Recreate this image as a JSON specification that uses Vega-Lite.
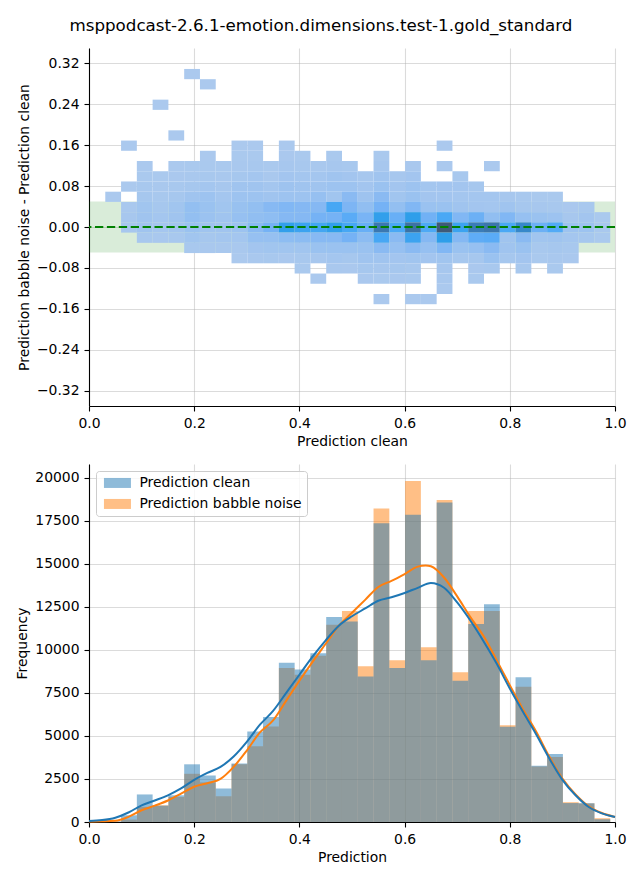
{
  "$schema": "https://vega.github.io/schema/vega-lite/v6.json",
  "background": "white",
  "padding": {"left": 15, "top": 18, "right": 5, "bottom": 5},
  "title": {"text": "msppodcast-2.6.1-emotion.dimensions.test-1.gold_standard", "font": "DejaVu Sans", "fontSize": 16.7, "fontWeight": "normal", "color": "black", "anchor": "middle", "offset": 13},
  "config": {
    "view": {"stroke": null},
    "font": "DejaVu Sans",
    "axis": {"labelFont": "DejaVu Sans", "labelFontSize": 13.9, "labelColor": "black", "titleFont": "DejaVu Sans", "titleFontSize": 13.9, "titleFontWeight": "normal", "titleColor": "black", "domainColor": "black", "domainWidth": 1.1, "tickColor": "black", "tickWidth": 1.1, "tickSize": 5, "labelPadding": 5, "titlePadding": 5, "grid": true, "gridColor": "#b0b0b0", "gridOpacity": 0.45, "gridWidth": 1.1, "zindex": 1, "labelFlush": false, "labelOverlap": false},
    "axisY": {"titlePadding": 5}
  },
  "spacing": 15,
  "datasets": {
    "cells": [
      {"p":0.045,"d":0.06,"c":1},
      {"p":0.075,"d":0.16,"c":3},{"p":0.075,"d":0.08,"c":8},{"p":0.075,"d":0.04,"c":60},{"p":0.075,"d":0.02,"c":160},{"p":0.075,"d":0,"c":150},
      {"p":0.105,"d":0.12,"c":10},{"p":0.105,"d":0.1,"c":40},{"p":0.105,"d":0.08,"c":100},{"p":0.105,"d":0.06,"c":200},{"p":0.105,"d":0.04,"c":350},{"p":0.105,"d":0.02,"c":400},{"p":0.105,"d":0,"c":400},{"p":0.105,"d":-0.02,"c":100},
      {"p":0.135,"d":0.24,"c":1},{"p":0.135,"d":0.1,"c":20},{"p":0.135,"d":0.08,"c":60},{"p":0.135,"d":0.06,"c":120},{"p":0.135,"d":0.04,"c":200},{"p":0.135,"d":0.02,"c":250},{"p":0.135,"d":0,"c":220},{"p":0.135,"d":-0.02,"c":80},
      {"p":0.165,"d":0.18,"c":1},{"p":0.165,"d":0.12,"c":10},{"p":0.165,"d":0.1,"c":50},{"p":0.165,"d":0.08,"c":120},{"p":0.165,"d":0.06,"c":200},{"p":0.165,"d":0.04,"c":350},{"p":0.165,"d":0.02,"c":400},{"p":0.165,"d":0,"c":300},{"p":0.165,"d":-0.02,"c":120},
      {"p":0.195,"d":0.3,"c":1},{"p":0.195,"d":0.12,"c":20},{"p":0.195,"d":0.1,"c":80},{"p":0.195,"d":0.08,"c":200},{"p":0.195,"d":0.06,"c":400},{"p":0.195,"d":0.04,"c":800},{"p":0.195,"d":0.02,"c":800},{"p":0.195,"d":0,"c":600},{"p":0.195,"d":-0.02,"c":350},{"p":0.195,"d":-0.04,"c":100},
      {"p":0.225,"d":0.28,"c":1},{"p":0.225,"d":0.14,"c":5},{"p":0.225,"d":0.12,"c":30},{"p":0.225,"d":0.1,"c":120},{"p":0.225,"d":0.08,"c":250},{"p":0.225,"d":0.06,"c":500},{"p":0.225,"d":0.04,"c":600},{"p":0.225,"d":0.02,"c":550},{"p":0.225,"d":0,"c":400},{"p":0.225,"d":-0.02,"c":180},{"p":0.225,"d":-0.04,"c":60},
      {"p":0.255,"d":0.12,"c":20},{"p":0.255,"d":0.1,"c":60},{"p":0.255,"d":0.08,"c":150},{"p":0.255,"d":0.06,"c":250},{"p":0.255,"d":0.04,"c":350},{"p":0.255,"d":0.02,"c":400},{"p":0.255,"d":0,"c":380},{"p":0.255,"d":-0.02,"c":250},{"p":0.255,"d":-0.04,"c":90},
      {"p":0.285,"d":0.16,"c":5},{"p":0.285,"d":0.14,"c":20},{"p":0.285,"d":0.12,"c":80},{"p":0.285,"d":0.1,"c":200},{"p":0.285,"d":0.08,"c":400},{"p":0.285,"d":0.06,"c":500},{"p":0.285,"d":0.04,"c":650},{"p":0.285,"d":0.02,"c":700},{"p":0.285,"d":0,"c":500},{"p":0.285,"d":-0.02,"c":250},{"p":0.285,"d":-0.04,"c":80},{"p":0.285,"d":-0.06,"c":5},
      {"p":0.315,"d":0.16,"c":5},{"p":0.315,"d":0.14,"c":30},{"p":0.315,"d":0.12,"c":100},{"p":0.315,"d":0.1,"c":250},{"p":0.315,"d":0.08,"c":400},{"p":0.315,"d":0.06,"c":500},{"p":0.315,"d":0.04,"c":800},{"p":0.315,"d":0.02,"c":900},{"p":0.315,"d":0,"c":1200},{"p":0.315,"d":-0.02,"c":700},{"p":0.315,"d":-0.04,"c":300},{"p":0.315,"d":-0.06,"c":60},
      {"p":0.345,"d":0.12,"c":20},{"p":0.345,"d":0.1,"c":80},{"p":0.345,"d":0.08,"c":250},{"p":0.345,"d":0.06,"c":400},{"p":0.345,"d":0.04,"c":1300},{"p":0.345,"d":0.02,"c":1000},{"p":0.345,"d":0,"c":1800},{"p":0.345,"d":-0.02,"c":700},{"p":0.345,"d":-0.04,"c":350},{"p":0.345,"d":-0.06,"c":100},
      {"p":0.375,"d":0.16,"c":3},{"p":0.375,"d":0.14,"c":50},{"p":0.375,"d":0.12,"c":150},{"p":0.375,"d":0.1,"c":300},{"p":0.375,"d":0.08,"c":450},{"p":0.375,"d":0.06,"c":500},{"p":0.375,"d":0.04,"c":1500},{"p":0.375,"d":0.02,"c":1400},{"p":0.375,"d":0,"c":3500},{"p":0.375,"d":-0.02,"c":1000},{"p":0.375,"d":-0.04,"c":350},{"p":0.375,"d":-0.06,"c":50},
      {"p":0.405,"d":0.14,"c":20},{"p":0.405,"d":0.12,"c":100},{"p":0.405,"d":0.1,"c":250},{"p":0.405,"d":0.08,"c":400},{"p":0.405,"d":0.06,"c":500},{"p":0.405,"d":0.04,"c":1400},{"p":0.405,"d":0.02,"c":1400},{"p":0.405,"d":0,"c":3200},{"p":0.405,"d":-0.02,"c":1100},{"p":0.405,"d":-0.04,"c":350},{"p":0.405,"d":-0.06,"c":100},{"p":0.405,"d":-0.08,"c":20},
      {"p":0.435,"d":0.12,"c":80},{"p":0.435,"d":0.1,"c":250},{"p":0.435,"d":0.08,"c":400},{"p":0.435,"d":0.06,"c":700},{"p":0.435,"d":0.04,"c":1400},{"p":0.435,"d":0.02,"c":1800},{"p":0.435,"d":0,"c":3000},{"p":0.435,"d":-0.02,"c":1300},{"p":0.435,"d":-0.04,"c":600},{"p":0.435,"d":-0.06,"c":150},{"p":0.435,"d":-0.1,"c":5},
      {"p":0.465,"d":0.14,"c":30},{"p":0.465,"d":0.12,"c":150},{"p":0.465,"d":0.1,"c":400},{"p":0.465,"d":0.08,"c":500},{"p":0.465,"d":0.06,"c":350},{"p":0.465,"d":0.04,"c":2900},{"p":0.465,"d":0.02,"c":1800},{"p":0.465,"d":0,"c":3500},{"p":0.465,"d":-0.02,"c":1300},{"p":0.465,"d":-0.04,"c":600},{"p":0.465,"d":-0.06,"c":250},{"p":0.465,"d":-0.08,"c":80},
      {"p":0.495,"d":0.12,"c":100},{"p":0.495,"d":0.1,"c":300},{"p":0.495,"d":0.08,"c":500},{"p":0.495,"d":0.06,"c":1200},{"p":0.495,"d":0.04,"c":1600},{"p":0.495,"d":0.02,"c":2400},{"p":0.495,"d":0,"c":2900},{"p":0.495,"d":-0.02,"c":1800},{"p":0.495,"d":-0.04,"c":600},{"p":0.495,"d":-0.06,"c":200},{"p":0.495,"d":-0.08,"c":50},
      {"p":0.525,"d":0.1,"c":150},{"p":0.525,"d":0.08,"c":300},{"p":0.525,"d":0.06,"c":450},{"p":0.525,"d":0.04,"c":900},{"p":0.525,"d":0.02,"c":1700},{"p":0.525,"d":0,"c":2100},{"p":0.525,"d":-0.02,"c":1100},{"p":0.525,"d":-0.04,"c":600},{"p":0.525,"d":-0.06,"c":400},{"p":0.525,"d":-0.08,"c":200},{"p":0.525,"d":-0.1,"c":50},
      {"p":0.555,"d":0.14,"c":30},{"p":0.555,"d":0.12,"c":150},{"p":0.555,"d":0.1,"c":400},{"p":0.555,"d":0.08,"c":600},{"p":0.555,"d":0.06,"c":1200},{"p":0.555,"d":0.04,"c":1800},{"p":0.555,"d":0.02,"c":3500},{"p":0.555,"d":0,"c":6300},{"p":0.555,"d":-0.02,"c":2900},{"p":0.555,"d":-0.04,"c":1200},{"p":0.555,"d":-0.06,"c":400},{"p":0.555,"d":-0.08,"c":150},{"p":0.555,"d":-0.1,"c":40},{"p":0.555,"d":-0.14,"c":2},
      {"p":0.585,"d":0.1,"c":150},{"p":0.585,"d":0.08,"c":300},{"p":0.585,"d":0.06,"c":350},{"p":0.585,"d":0.04,"c":800},{"p":0.585,"d":0.02,"c":2100},{"p":0.585,"d":0,"c":2800},{"p":0.585,"d":-0.02,"c":1200},{"p":0.585,"d":-0.04,"c":700},{"p":0.585,"d":-0.06,"c":300},{"p":0.585,"d":-0.08,"c":200},{"p":0.585,"d":-0.1,"c":50},
      {"p":0.615,"d":0.12,"c":80},{"p":0.615,"d":0.1,"c":300},{"p":0.615,"d":0.08,"c":500},{"p":0.615,"d":0.06,"c":600},{"p":0.615,"d":0.04,"c":1500},{"p":0.615,"d":0.02,"c":3600},{"p":0.615,"d":0,"c":6800},{"p":0.615,"d":-0.02,"c":3200},{"p":0.615,"d":-0.04,"c":1200},{"p":0.615,"d":-0.06,"c":350},{"p":0.615,"d":-0.08,"c":120},{"p":0.615,"d":-0.1,"c":40},{"p":0.615,"d":-0.14,"c":2},
      {"p":0.645,"d":0.08,"c":250},{"p":0.645,"d":0.06,"c":300},{"p":0.645,"d":0.04,"c":600},{"p":0.645,"d":0.02,"c":1900},{"p":0.645,"d":0,"c":2700},{"p":0.645,"d":-0.02,"c":1400},{"p":0.645,"d":-0.04,"c":700},{"p":0.645,"d":-0.06,"c":300},{"p":0.645,"d":-0.14,"c":1},
      {"p":0.675,"d":0.16,"c":2},{"p":0.675,"d":0.12,"c":3},{"p":0.675,"d":0.08,"c":300},{"p":0.675,"d":0.06,"c":300},{"p":0.675,"d":0.04,"c":600},{"p":0.675,"d":0.02,"c":2800},{"p":0.675,"d":0,"c":9000},{"p":0.675,"d":-0.02,"c":3600},{"p":0.675,"d":-0.04,"c":1500},{"p":0.675,"d":-0.06,"c":350},{"p":0.675,"d":-0.08,"c":150},{"p":0.675,"d":-0.1,"c":60},{"p":0.675,"d":-0.12,"c":10},
      {"p":0.705,"d":0.1,"c":100},{"p":0.705,"d":0.08,"c":300},{"p":0.705,"d":0.06,"c":250},{"p":0.705,"d":0.04,"c":400},{"p":0.705,"d":0.02,"c":1500},{"p":0.705,"d":0,"c":3200},{"p":0.705,"d":-0.02,"c":1400},{"p":0.705,"d":-0.04,"c":600},{"p":0.705,"d":-0.06,"c":200},
      {"p":0.735,"d":0.08,"c":200},{"p":0.735,"d":0.06,"c":250},{"p":0.735,"d":0.04,"c":300},{"p":0.735,"d":0.02,"c":2000},{"p":0.735,"d":0,"c":6000},{"p":0.735,"d":-0.02,"c":2300},{"p":0.735,"d":-0.04,"c":700},{"p":0.735,"d":-0.06,"c":180},{"p":0.735,"d":-0.08,"c":50},{"p":0.735,"d":-0.1,"c":20},
      {"p":0.765,"d":0.12,"c":2},{"p":0.765,"d":0.06,"c":250},{"p":0.765,"d":0.04,"c":250},{"p":0.765,"d":0.02,"c":900},{"p":0.765,"d":0,"c":6500},{"p":0.765,"d":-0.02,"c":2400},{"p":0.765,"d":-0.04,"c":1200},{"p":0.765,"d":-0.06,"c":600},{"p":0.765,"d":-0.08,"c":100},
      {"p":0.795,"d":0.06,"c":150},{"p":0.795,"d":0.04,"c":400},{"p":0.795,"d":0.02,"c":1500},{"p":0.795,"d":0,"c":2800},{"p":0.795,"d":-0.02,"c":400},{"p":0.795,"d":-0.04,"c":400},{"p":0.795,"d":-0.06,"c":170},
      {"p":0.825,"d":0.06,"c":100},{"p":0.825,"d":0.04,"c":200},{"p":0.825,"d":0.02,"c":700},{"p":0.825,"d":0,"c":5200},{"p":0.825,"d":-0.02,"c":1200},{"p":0.825,"d":-0.04,"c":600},{"p":0.825,"d":-0.06,"c":300},{"p":0.825,"d":-0.08,"c":100},
      {"p":0.855,"d":0.06,"c":30},{"p":0.855,"d":0.04,"c":150},{"p":0.855,"d":0.02,"c":600},{"p":0.855,"d":0,"c":2000},{"p":0.855,"d":-0.02,"c":350},{"p":0.855,"d":-0.04,"c":100},{"p":0.855,"d":-0.06,"c":20},
      {"p":0.885,"d":0.06,"c":30},{"p":0.885,"d":0.04,"c":100},{"p":0.885,"d":0.02,"c":500},{"p":0.885,"d":0,"c":2600},{"p":0.885,"d":-0.02,"c":400},{"p":0.885,"d":-0.04,"c":200},{"p":0.885,"d":-0.06,"c":80},{"p":0.885,"d":-0.08,"c":40},
      {"p":0.915,"d":0.04,"c":50},{"p":0.915,"d":0.02,"c":150},{"p":0.915,"d":0,"c":500},{"p":0.915,"d":-0.02,"c":250},{"p":0.915,"d":-0.04,"c":100},{"p":0.915,"d":-0.06,"c":50},
      {"p":0.945,"d":0.04,"c":100},{"p":0.945,"d":0.02,"c":300},{"p":0.945,"d":0,"c":500},{"p":0.945,"d":-0.02,"c":200},
      {"p":0.975,"d":0.02,"c":40},{"p":0.975,"d":0,"c":80},{"p":0.975,"d":-0.02,"c":40}
    ],
    "hist": [
      {"p":0.015,"s":"Prediction clean","n":0},{"p":0.015,"s":"Prediction babble noise","n":10},
      {"p":0.045,"s":"Prediction clean","n":30},{"p":0.045,"s":"Prediction babble noise","n":20},
      {"p":0.075,"s":"Prediction clean","n":390},{"p":0.075,"s":"Prediction babble noise","n":140},
      {"p":0.105,"s":"Prediction clean","n":1600},{"p":0.105,"s":"Prediction babble noise","n":880},
      {"p":0.135,"s":"Prediction clean","n":950},{"p":0.135,"s":"Prediction babble noise","n":970},
      {"p":0.165,"s":"Prediction clean","n":1550},{"p":0.165,"s":"Prediction babble noise","n":1450},
      {"p":0.195,"s":"Prediction clean","n":3350},{"p":0.195,"s":"Prediction babble noise","n":2800},
      {"p":0.225,"s":"Prediction clean","n":2700},{"p":0.225,"s":"Prediction babble noise","n":2300},
      {"p":0.255,"s":"Prediction clean","n":1950},{"p":0.255,"s":"Prediction babble noise","n":1500},
      {"p":0.285,"s":"Prediction clean","n":3400},{"p":0.285,"s":"Prediction babble noise","n":3350},
      {"p":0.315,"s":"Prediction clean","n":5250},{"p":0.315,"s":"Prediction babble noise","n":4400},
      {"p":0.345,"s":"Prediction clean","n":6100},{"p":0.345,"s":"Prediction babble noise","n":5550},
      {"p":0.375,"s":"Prediction clean","n":9250},{"p":0.375,"s":"Prediction babble noise","n":8950},
      {"p":0.405,"s":"Prediction clean","n":8850},{"p":0.405,"s":"Prediction babble noise","n":8550},
      {"p":0.435,"s":"Prediction clean","n":9800},{"p":0.435,"s":"Prediction babble noise","n":9650},
      {"p":0.465,"s":"Prediction clean","n":11900},{"p":0.465,"s":"Prediction babble noise","n":11450},
      {"p":0.495,"s":"Prediction clean","n":11650},{"p":0.495,"s":"Prediction babble noise","n":12250},
      {"p":0.525,"s":"Prediction clean","n":8450},{"p":0.525,"s":"Prediction babble noise","n":9050},
      {"p":0.555,"s":"Prediction clean","n":17350},{"p":0.555,"s":"Prediction babble noise","n":18200},
      {"p":0.585,"s":"Prediction clean","n":8950},{"p":0.585,"s":"Prediction babble noise","n":9400},
      {"p":0.615,"s":"Prediction clean","n":17850},{"p":0.615,"s":"Prediction babble noise","n":19800},
      {"p":0.645,"s":"Prediction clean","n":9400},{"p":0.645,"s":"Prediction babble noise","n":10150},
      {"p":0.675,"s":"Prediction clean","n":18550},{"p":0.675,"s":"Prediction babble noise","n":18700},
      {"p":0.705,"s":"Prediction clean","n":8200},{"p":0.705,"s":"Prediction babble noise","n":8700},
      {"p":0.735,"s":"Prediction clean","n":11500},{"p":0.735,"s":"Prediction babble noise","n":12250},
      {"p":0.765,"s":"Prediction clean","n":12650},{"p":0.765,"s":"Prediction babble noise","n":12250},
      {"p":0.795,"s":"Prediction clean","n":5530},{"p":0.795,"s":"Prediction babble noise","n":5620},
      {"p":0.825,"s":"Prediction clean","n":8400},{"p":0.825,"s":"Prediction babble noise","n":7850},
      {"p":0.855,"s":"Prediction clean","n":3260},{"p":0.855,"s":"Prediction babble noise","n":3230},
      {"p":0.885,"s":"Prediction clean","n":3950},{"p":0.885,"s":"Prediction babble noise","n":3770},
      {"p":0.915,"s":"Prediction clean","n":1100},{"p":0.915,"s":"Prediction babble noise","n":1150},
      {"p":0.945,"s":"Prediction clean","n":1090},{"p":0.945,"s":"Prediction babble noise","n":1080},
      {"p":0.975,"s":"Prediction clean","n":160},{"p":0.975,"s":"Prediction babble noise","n":220}
    ],
    "kde": [
      {"p":0,"s":"Prediction clean","k":60},{"p":0.025,"s":"Prediction clean","k":110},{"p":0.05,"s":"Prediction clean","k":250},{"p":0.075,"s":"Prediction clean","k":550},{"p":0.1,"s":"Prediction clean","k":970},{"p":0.125,"s":"Prediction clean","k":1250},{"p":0.15,"s":"Prediction clean","k":1550},{"p":0.175,"s":"Prediction clean","k":1950},{"p":0.2,"s":"Prediction clean","k":2450},{"p":0.225,"s":"Prediction clean","k":2850},{"p":0.25,"s":"Prediction clean","k":3200},{"p":0.275,"s":"Prediction clean","k":3800},{"p":0.3,"s":"Prediction clean","k":4650},{"p":0.325,"s":"Prediction clean","k":5650},{"p":0.35,"s":"Prediction clean","k":6450},{"p":0.375,"s":"Prediction clean","k":7500},{"p":0.4,"s":"Prediction clean","k":8550},{"p":0.425,"s":"Prediction clean","k":9600},{"p":0.45,"s":"Prediction clean","k":10550},{"p":0.475,"s":"Prediction clean","k":11400},{"p":0.5,"s":"Prediction clean","k":11950},{"p":0.525,"s":"Prediction clean","k":12400},{"p":0.55,"s":"Prediction clean","k":12850},{"p":0.575,"s":"Prediction clean","k":13050},{"p":0.6,"s":"Prediction clean","k":13300},{"p":0.625,"s":"Prediction clean","k":13600},{"p":0.65,"s":"Prediction clean","k":13880},{"p":0.675,"s":"Prediction clean","k":13600},{"p":0.7,"s":"Prediction clean","k":12750},{"p":0.725,"s":"Prediction clean","k":11700},{"p":0.75,"s":"Prediction clean","k":10500},{"p":0.775,"s":"Prediction clean","k":9200},{"p":0.8,"s":"Prediction clean","k":7750},{"p":0.825,"s":"Prediction clean","k":6400},{"p":0.85,"s":"Prediction clean","k":5100},{"p":0.875,"s":"Prediction clean","k":3700},{"p":0.9,"s":"Prediction clean","k":2450},{"p":0.925,"s":"Prediction clean","k":1550},{"p":0.95,"s":"Prediction clean","k":870},{"p":0.975,"s":"Prediction clean","k":500},{"p":1,"s":"Prediction clean","k":290},
      {"p":0,"s":"Prediction babble noise","k":30},{"p":0.025,"s":"Prediction babble noise","k":40},{"p":0.05,"s":"Prediction babble noise","k":70},{"p":0.075,"s":"Prediction babble noise","k":300},{"p":0.1,"s":"Prediction babble noise","k":680},{"p":0.125,"s":"Prediction babble noise","k":950},{"p":0.15,"s":"Prediction babble noise","k":1250},{"p":0.175,"s":"Prediction babble noise","k":1650},{"p":0.2,"s":"Prediction babble noise","k":2050},{"p":0.225,"s":"Prediction babble noise","k":2250},{"p":0.25,"s":"Prediction babble noise","k":2500},{"p":0.275,"s":"Prediction babble noise","k":3200},{"p":0.3,"s":"Prediction babble noise","k":4150},{"p":0.325,"s":"Prediction babble noise","k":5200},{"p":0.35,"s":"Prediction babble noise","k":5900},{"p":0.375,"s":"Prediction babble noise","k":7050},{"p":0.4,"s":"Prediction babble noise","k":8200},{"p":0.425,"s":"Prediction babble noise","k":9300},{"p":0.45,"s":"Prediction babble noise","k":10350},{"p":0.475,"s":"Prediction babble noise","k":11400},{"p":0.5,"s":"Prediction babble noise","k":12150},{"p":0.525,"s":"Prediction babble noise","k":12900},{"p":0.55,"s":"Prediction babble noise","k":13650},{"p":0.575,"s":"Prediction babble noise","k":14000},{"p":0.6,"s":"Prediction babble noise","k":14400},{"p":0.625,"s":"Prediction babble noise","k":14830},{"p":0.64,"s":"Prediction babble noise","k":14900},{"p":0.65,"s":"Prediction babble noise","k":14850},{"p":0.675,"s":"Prediction babble noise","k":14200},{"p":0.7,"s":"Prediction babble noise","k":13100},{"p":0.725,"s":"Prediction babble noise","k":11900},{"p":0.75,"s":"Prediction babble noise","k":10800},{"p":0.775,"s":"Prediction babble noise","k":9400},{"p":0.8,"s":"Prediction babble noise","k":7950},{"p":0.825,"s":"Prediction babble noise","k":6550},{"p":0.85,"s":"Prediction babble noise","k":5250},{"p":0.875,"s":"Prediction babble noise","k":3800},{"p":0.9,"s":"Prediction babble noise","k":2520},{"p":0.925,"s":"Prediction babble noise","k":1600},{"p":0.95,"s":"Prediction babble noise","k":910},{"p":0.975,"s":"Prediction babble noise","k":520},{"p":1,"s":"Prediction babble noise","k":290}
    ]
  },
  "vconcat": [
    {
      "width": 526,
      "height": 358,
      "layer": [
        {
          "data": {"values": [{}]},
          "mark": {"type": "rect", "color": "green", "opacity": 0.15},
          "encoding": {
            "y": {"datum": -0.05, "type": "quantitative", "title": "Prediction babble noise - Prediction clean"},
            "y2": {"datum": 0.05}
          }
        },
        {
          "data": {"name": "cells"},
          "mark": {"type": "rect"},
          "encoding": {
            "x": {"field": "p", "type": "quantitative", "bin": {"extent": [0, 0.99], "step": 0.03, "nice": false}, "scale": {"domain": [0, 1], "nice": false}, "axis": {"values": [0, 0.2, 0.4, 0.6, 0.8, 1], "format": ".1f", "grid": true}, "title": "Prediction clean"},
            "y": {"field": "d", "type": "quantitative", "bin": {"extent": [-0.35, 0.35], "step": 0.02, "nice": false}, "scale": {"domain": [-0.35, 0.35], "nice": false}, "axis": {"values": [-0.32, -0.24, -0.16, -0.08, 0, 0.08, 0.16, 0.24, 0.32], "format": ".2f", "grid": true}, "title": "Prediction babble noise - Prediction clean"},
            "color": {"field": "c", "type": "quantitative", "legend": null, "scale": {"type": "linear", "domain": [1, 400, 800, 1400, 1800, 2400, 2800, 3600, 4700, 5800, 7400, 9000], "range": ["#abc9ee", "#a0c4ef", "#93bff1", "#85b8f3", "#75b2f5", "#5aabf6", "#4aa8f5", "#2e9eea", "#3290d4", "#3a7fbd", "#3e6a95", "#3f5a78"], "interpolate": "rgb", "clamp": true}}
          }
        },
        {
          "data": {"values": [{}]},
          "mark": {"type": "rule", "color": "green", "strokeDash": [8.3, 3.6], "strokeWidth": 2},
          "encoding": {
            "y": {"datum": 0, "type": "quantitative", "title": "Prediction babble noise - Prediction clean"}
          }
        }
      ]
    },
    {
      "width": 526,
      "height": 358,
      "layer": [
        {
          "data": {"name": "hist"},
          "transform": [{"filter": {"field": "s", "equal": "Prediction babble noise"}}],
          "mark": {"type": "bar", "opacity": 0.5, "binSpacing": 0},
          "encoding": {
            "x": {"field": "p", "type": "quantitative", "bin": {"extent": [0, 0.99], "step": 0.03, "nice": false}, "scale": {"domain": [0, 1], "nice": false}, "axis": {"values": [0, 0.2, 0.4, 0.6, 0.8, 1], "format": ".1f", "grid": true}, "title": "Prediction"},
            "y": {"field": "n", "type": "quantitative", "stack": null, "scale": {"domain": [0, 20790], "nice": false, "zero": false}, "axis": {"values": [0, 2500, 5000, 7500, 10000, 12500, 15000, 17500, 20000], "format": "d", "grid": true}, "title": "Frequency"},
            "color": {"field": "s", "type": "nominal", "scale": {"domain": ["Prediction clean", "Prediction babble noise"], "range": ["#1f77b4", "#ff7f0e"]}, "legend": {"title": null, "orient": "none", "legendX": 7, "legendY": 7, "symbolType": "M-2.7,-1H2.7V1H-2.7Z", "symbolSize": 100, "symbolOpacity": 0.5, "symbolStrokeWidth": 0, "symbolOffset": 9.5, "labelOffset": 15, "labelFont": "DejaVu Sans", "labelFontSize": 13.9, "labelColor": "black", "strokeColor": "#cccccc", "fillColor": "rgba(255,255,255,0.8)", "cornerRadius": 3, "padding": 5, "rowPadding": 6, "labelLimit": 300}}
          }
        },
        {
          "data": {"name": "hist"},
          "transform": [{"filter": {"field": "s", "equal": "Prediction clean"}}],
          "mark": {"type": "bar", "opacity": 0.5, "binSpacing": 0},
          "encoding": {
            "x": {"field": "p", "type": "quantitative", "bin": {"extent": [0, 0.99], "step": 0.03, "nice": false}, "title": "Prediction"},
            "y": {"field": "n", "type": "quantitative", "stack": null, "title": "Frequency"},
            "color": {"field": "s", "type": "nominal", "scale": {"domain": ["Prediction clean", "Prediction babble noise"], "range": ["#1f77b4", "#ff7f0e"]}, "legend": {"title": null, "orient": "none", "legendX": 7, "legendY": 7, "symbolType": "M-2.7,-1H2.7V1H-2.7Z", "symbolSize": 100, "symbolOpacity": 0.5, "symbolStrokeWidth": 0, "symbolOffset": 9.5, "labelOffset": 15, "labelFont": "DejaVu Sans", "labelFontSize": 13.9, "labelColor": "black", "strokeColor": "#cccccc", "fillColor": "rgba(255,255,255,0.8)", "cornerRadius": 3, "padding": 5, "rowPadding": 6, "labelLimit": 300}}
          }
        },
        {
          "data": {"name": "kde"},
          "transform": [{"filter": {"field": "s", "equal": "Prediction babble noise"}}],
          "mark": {"type": "line", "strokeWidth": 2, "interpolate": "monotone"},
          "encoding": {
            "x": {"field": "p", "type": "quantitative", "title": "Prediction"},
            "y": {"field": "k", "type": "quantitative", "title": "Frequency"},
            "color": {"field": "s", "type": "nominal", "scale": {"domain": ["Prediction clean", "Prediction babble noise"], "range": ["#1f77b4", "#ff7f0e"]}, "legend": null}
          }
        },
        {
          "data": {"name": "kde"},
          "transform": [{"filter": {"field": "s", "equal": "Prediction clean"}}],
          "mark": {"type": "line", "strokeWidth": 2, "interpolate": "monotone"},
          "encoding": {
            "x": {"field": "p", "type": "quantitative", "title": "Prediction"},
            "y": {"field": "k", "type": "quantitative", "title": "Frequency"},
            "color": {"field": "s", "type": "nominal", "scale": {"domain": ["Prediction clean", "Prediction babble noise"], "range": ["#1f77b4", "#ff7f0e"]}, "legend": null}
          }
        }
      ]
    }
  ]
}
